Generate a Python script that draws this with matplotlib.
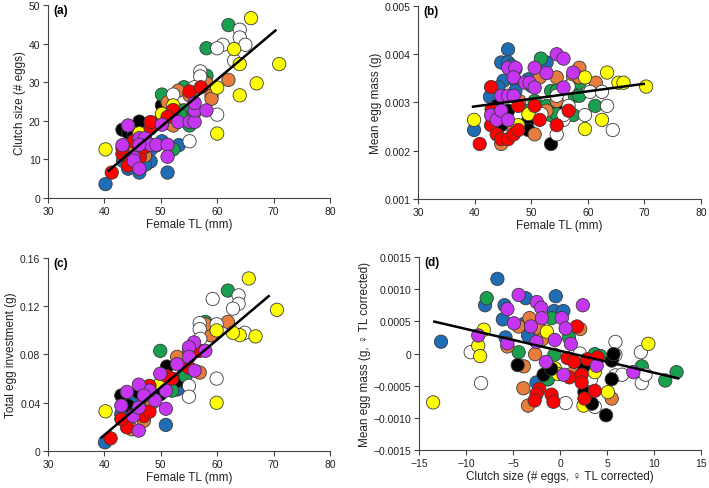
import matplotlib
matplotlib.use("Agg")
import matplotlib.pyplot as plt

plt.rcParams["font.family"] = ["Liberation Sans", "DejaVu Sans"]

# group colours: B blue, K black, R red, P purple, O orange, G green, Y yellow, W white
colours = {"B": "#1f6db5", "K": "#000000", "R": "#ff0000", "P": "#c636f2",
           "O": "#e67d3c", "G": "#19a04f", "Y": "#ffff00", "W": "#ffffff"}

# ---- (a) clutch size vs female TL
a_x = [40.2, 46.2, 51.2, 53.2, 50.2, 47.5, 48.2, 44.2, 49.2, 43.3, 47.2, 46.2, 48.2,
       43.2, 46.2, 44.2, 45.2, 50.2, 50.2, 53.1, 53.1, 45.5,
       62.0, 58.1, 58.1, 50.2, 54.1, 54.1, 55.1, 52.2, 51.0, 53.5, 57.5,
       62.0, 59.0, 59.0, 58.1, 51.2, 53.1, 52.2, 47.2, 44.2, 55.1, 45.2, 56.0,
       64.0, 64.0, 65.0, 61.0, 60.0, 63.0, 57.0, 57.0, 52.2, 60.0, 55.1, 56.0,
       40.2, 66.0, 63.0, 64.0, 71.0, 67.0, 64.0, 60.0, 60.0, 46.2, 46.2, 50.2, 52.2,
       41.3, 44.2, 46.3, 43.2, 43.2, 45.2, 48.2, 48.2, 52.2, 51.2, 55.1, 57.1, 47.2, 46.3,
       44.2, 43.2, 46.2, 47.2, 48.2, 49.2, 45.2, 45.2, 46.2, 51.2, 51.2, 53.1, 55.1, 56.0,
       56.0, 58.1, 56.0, 50.2, 46.2]
a_y = [3.6, 6.6, 6.6, 13.7, 14.7, 8.9, 9.5, 7.6, 13.6, 9.6, 8.6, 13.2, 12.6,
       17.7, 19.8, 17.0, 16.4, 24.0, 21.1, 21.0, 22.8, 15.0,
       44.8, 38.8, 31.7, 26.8, 28.7, 22.7, 18.8, 12.6, 19.5, 21.5, 30.5,
       30.6, 26.6, 25.7, 29.7, 24.8, 27.8, 18.8, 11.0, 11.0, 26.6, 13.0, 22.2,
       43.6, 41.6, 39.7, 39.7, 38.8, 35.6, 32.8, 31.5, 26.8, 21.6, 14.7, 28.7,
       12.6, 46.6, 38.6, 34.7, 34.7, 29.7, 26.6, 28.6, 16.7, 16.8, 12.8, 21.8, 24.0,
       6.6, 8.4, 10.6, 11.4, 12.8, 14.7, 18.1, 19.7, 22.8, 21.0, 27.6, 28.7, 13.2, 14.5,
       18.8, 13.7, 15.5, 15.5, 13.8, 13.8, 10.5, 9.7, 7.6, 13.8, 10.7, 19.7, 19.7, 19.7,
       22.7, 22.7, 24.6, 19.0, 13.8]
a_g = "BBBBBBBBBBBBB" + "KKKKKKKKK" + "GGGGGGGGGGG" + "OOOOOOOOOOOO" + \
      "WWWWWWWWWWWW" + "YYYYYYYYYYYYY" + "RRRRRRRRRRRRRR" + "PPPPPPPPPPPPPPPPPPP"
a_line_x = [40.6, 70.5]
a_line_y = [6.9, 43.6]

# ---- (b) mean egg mass vs female TL
b_x = [39.9, 45.9, 44.7, 45.9, 46.5, 45.1, 47.2, 47.2, 47.2, 44.2, 42.7, 52.7, 50.1, 49.5,
       43.9, 45.9, 44.7, 49.5, 49.5, 53.5, 54.5,
       51.7, 53.5, 54.5, 57.7, 58.5, 58.5, 57.4, 61.3, 53.5, 54.5, 50.6, 49.5, 52.7,
       44.7, 46.9, 50.6, 50.6, 51.5, 52.7, 54.5, 54.5, 58.5, 57.4, 58.5, 61.4, 47.9,
       54.5, 55.7, 55.7, 56.6, 56.6, 59.5, 60.4, 62.5, 63.4, 64.4, 54.5, 51.8,
       39.9, 47.7, 49.5, 59.5, 63.4, 65.4, 66.3, 70.3, 59.5, 62.5,
       42.9, 40.9, 42.9, 43.9, 44.7, 45.9, 46.9, 47.7, 47.7, 50.6, 51.5, 54.5, 56.6, 43.0,
       54.5, 55.7, 45.9, 47.2, 50.6, 52.7, 46.9, 48.9, 49.7, 50.6, 55.7, 57.4, 44.7, 45.9,
       46.9, 42.9, 43.9, 44.7, 45.9]
b_y = [0.00243, 0.0041, 0.00383, 0.00383, 0.00376, 0.00345, 0.00369, 0.00345, 0.00324,
       0.00331, 0.00312, 0.00383, 0.00334, 0.00348,
       0.00293, 0.00283, 0.00253, 0.00264, 0.00243, 0.00214, 0.00293,
       0.00391, 0.00324, 0.00324, 0.00314, 0.00314, 0.00341, 0.00274, 0.00293, 0.00274,
       0.00276, 0.00303, 0.00283, 0.00293,
       0.00214, 0.00243, 0.00234, 0.00276, 0.00352, 0.00283, 0.00352, 0.00303, 0.00372,
       0.00352, 0.00352, 0.00341, 0.00303,
       0.00234, 0.00264, 0.00274, 0.00333, 0.00293, 0.00274, 0.00322, 0.00322, 0.00293,
       0.00243, 0.00314, 0.00276,
       0.00264, 0.00253, 0.00276, 0.00352, 0.00362, 0.00341, 0.00341, 0.00333, 0.00245,
       0.00264,
       0.00332, 0.00214, 0.00253, 0.00234, 0.00224, 0.00224, 0.00234, 0.00243, 0.00293,
       0.00293, 0.00264, 0.00253, 0.00283, 0.00286,
       0.0040, 0.00391, 0.00372, 0.00372, 0.00372, 0.00361, 0.00352, 0.00341, 0.00341,
       0.00331, 0.00331, 0.00362, 0.00314, 0.00314, 0.00314, 0.00274, 0.00264, 0.00283,
       0.00264]
b_g = "BBBBBBBBBBBBBB" + "KKKKKKK" + "GGGGGGGGGGGGG" + "OOOOOOOOOOOOO" + \
      "WWWWWWWWWWWW" + "YYYYYYYYYY" + "RRRRRRRRRRRRRR" + "PPPPPPPPPPPPPPPPPPP"
b_line_x = [39.5, 70.1]
b_line_y = [0.00291, 0.00339]

# ---- (c) total egg investment vs female TL
c_x = [40.1, 50.9, 52.9, 43.0, 45.2, 47.0,
       43.0, 44.2, 45.2, 46.1, 49.9, 51.1, 54.0, 52.9,
       61.9, 49.9, 57.9, 57.9, 54.4, 52.0, 58.9,
       61.9, 58.9, 52.9, 55.0, 56.9, 48.5, 47.0, 44.9, 57.9,
       59.2, 63.8, 63.8, 62.8, 64.9, 56.9, 56.9, 59.9, 59.9, 55.0, 55.0, 57.0,
       40.2, 65.6, 70.6, 66.8, 64.0, 62.8, 59.9, 59.9, 49.9,
       41.1, 44.0, 47.0, 48.0, 48.0, 43.0, 55.0, 51.1, 56.9, 52.0,
       55.9, 57.9, 55.0, 56.0, 52.9, 55.0, 49.9, 50.9, 50.9, 49.0, 48.0, 46.1, 44.0, 43.0,
       45.1, 46.1, 47.0, 46.1]
c_y = [0.0072, 0.0216, 0.051, 0.0307, 0.0445, 0.040,
       0.046, 0.0376, 0.0307, 0.0486, 0.047, 0.070, 0.058, 0.058,
       0.133, 0.083, 0.107, 0.102, 0.062, 0.050, 0.096,
       0.107, 0.096, 0.078, 0.083, 0.065, 0.040, 0.025, 0.018, 0.105,
       0.126, 0.129, 0.122, 0.118, 0.098, 0.106, 0.101, 0.105, 0.060, 0.054, 0.045, 0.093,
       0.0329, 0.143, 0.117, 0.095, 0.096, 0.098, 0.100, 0.040, 0.056,
       0.0105, 0.0196, 0.029, 0.0326, 0.054, 0.0265, 0.069, 0.062, 0.083, 0.060,
       0.090, 0.083, 0.086, 0.0666, 0.072, 0.078, 0.064, 0.050, 0.035, 0.042, 0.050, 0.055,
       0.049, 0.0376, 0.029, 0.0169, 0.046, 0.036]
c_g = "BBBBBB" + "KKKKKKKK" + "GGGGGGG" + "OOOOOOOOO" + "WWWWWWWWWWWW" + \
      "YYYYYYYYY" + "RRRRRRRRRR" + "PPPPPPPPPPPPPPPPPP"
c_line_x = [39.3, 69.3]
c_line_y = [0.0105, 0.129]

# ---- (d) residual egg mass vs residual clutch size
d_x = [-6.66, -12.66, -7.97, -5.9, -6.08, -3.64, -0.45, -0.63, 0.36, -5.8, -3.4, -2.5, -1.3, -3.8,
       -7.8, -0.9, -4.4, -0.6, 0.95, 3.7, 4.3, 8.7, 11.2, 12.4, -1.3,
       -3.25, -4.4, -2.1, -2.65, -5.6, -3.85, -3.9, -3.4, 2.15, 1.2, 5.5, -1.9,
       -9.5, -8.4, 0.6, 3.7, 3.3, 5.9, 5.9, 5.9, 6.6, 8.6, 8.7, 9.1, 2.1,
       -13.5, -8.1, -8.7, -8.5, -1.4, -0.55, -0.2, 3.2, 3.7, 2.5, 5.1, 9.4,
       -4.5, -1.75, -0.93, 2.5, 2.6, 4.9, 5.5, 5.5, 5.7, 3.4,
       1.8, 0.8, 1.5, 2.9, 4.0, 1.0, 2.3, 2.3, 3.7, 2.6, -0.9, -0.7, -2.2, -2.5, -2.7,
       -4.4, -2.47, -2.0, 2.43, -5.6, -1.93, 0.2, 0.6, -3.1, -4.9, -2.5, -0.55, 1.15, -8.7,
       -5.6, -1.5, 0.38, 3.9, 7.8]
d_y = [0.00116, 0.000183, 0.00075, 0.00075, 0.00053, 0.00086, 0.00089, 0.00066, 0.00066,
       0.00025, 0.00028, -0.00045, -0.0004, 0.00046,
       0.00086, 0.00055, 0.00002, -0.00002, 0.00025, -0.00001, -0.00004, -0.0002, -0.00042,
       -0.00029, -0.0004,
       0.00055, 0.00042, 0.00037, -0.00001, 0.00011, -0.0002, -0.00054, -0.00081, 0.00038,
       -0.00032, -0.0007, 0.00022,
       0.00002, -0.00046, -0.00077, -0.00083, -0.0004, 0.00018, -0.00002, -0.00034, -0.00033,
       0.00002, -0.00046, -0.00033, 0.0,
       -0.00076, 0.00037, 0.00012, -0.00004, 0.00034, -0.00023, -0.00032, -0.00023, -0.00029,
       -0.00081, -0.0006, 0.00015,
       -0.00018, -0.00033, -0.00024, -0.0002, -0.0006, -0.00096, -0.0004, -0.00011, -0.00001,
       -0.00078,
       0.00042, -0.00007, -0.00013, -0.00009, -0.00006, -0.00037, -0.00033, -0.00045, -0.00058,
       -0.0007, -0.00064, -0.00075, -0.00055, -0.00063, -0.00073,
       0.00091, 0.0008, 0.00071, 0.00075, 0.00069, 0.00055, 0.00055, 0.00039, 0.00042, 0.00047,
       0.00018, 0.00021, 0.00015, 0.00028, 0.00016, -0.00013, -0.00033, -0.00019, -0.00029]
d_g = "BBBBBBBBBBBBBB" + "GGGGGGGGGGG" + "OOOOOOOOOOOO" + "WWWWWWWWWWWWW" + \
      "YYYYYYYYYYYY" + "KKKKKKKKKK" + "RRRRRRRRRRRRRRR" + "PPPPPPPPPPPPPPPPPPP"
d_line_x = [-13.5, 12.7]
d_line_y = [0.0005, -0.00039]

tl_ticks = [30, 40, 50, 60, 70, 80]
a_yticks = [0, 10, 20, 30, 40, 50]
b_yticks = [0.001, 0.002, 0.003, 0.004, 0.005]
b_ylabels = ["0.001", "0.002", "0.003", "0.004", "0.005"]
c_yticks = [0, 0.04, 0.08, 0.12, 0.16]
c_ylabels = ["0", "0.04", "0.08", "0.12", "0.16"]
d_xticks = [-15, -10, -5, 0, 5, 10, 15]
d_xlabels = ["\u221215", "\u221210", "\u22125", "0", "5", "10", "15"]
d_yticks = [-0.0015, -0.001, -0.0005, 0, 0.0005, 0.001, 0.0015]
d_ylabels = ["\u22120.0015", "\u22120.0010", "\u22120.0005", "0", "0.0005", "0.0010", "0.0015"]

fig = plt.figure(figsize=(7.09, 4.89), dpi=100)


def panel(rect, xs, ys, gs, lx, ly, tag, xlabel, ylabel, xt, xl, yt, yl):
    ax = fig.add_axes(rect)
    ax.scatter(xs, ys, c=[colours[g] for g in gs], s=92, edgecolors="#3a3a3a",
               linewidths=0.6, clip_on=False, zorder=2)
    ax.plot(lx, ly, color="black", lw=1.8, zorder=3, solid_capstyle="butt")
    ax.set_xlim(xt[0], xt[-1])
    ax.set_ylim(yt[0], yt[-1])
    ax.set_xticks(xt)
    ax.set_xticklabels(xl)
    ax.set_yticks(yt)
    ax.set_yticklabels(yl)
    for s in ["top", "right"]:
        ax.spines[s].set_visible(False)
    for s in ["left", "bottom"]:
        ax.spines[s].set_color("#444444")
        ax.spines[s].set_linewidth(0.8)
    ax.tick_params(direction="out", length=3.5, width=0.8, color="#444444",
                   labelsize=7.5, labelcolor="#222222", pad=2)
    ax.set_xlabel(xlabel, fontsize=8.5, color="#222222", labelpad=2)
    ax.set_ylabel(ylabel, fontsize=8.5, color="#222222", labelpad=2)
    ax.text(0.02, 1.005, tag, transform=ax.transAxes, fontsize=8.5,
            fontweight="bold", va="top", ha="left")
    return ax


panel([0.0677, 0.593, 0.3977, 0.3947], a_x, a_y, a_g, a_line_x, a_line_y, "(a)",
      "Female TL (mm)", "Clutch size (# eggs)", tl_ticks, [str(t) for t in tl_ticks],
      a_yticks, [str(t) for t in a_yticks])
panel([0.5896, 0.591, 0.3992, 0.3947], b_x, b_y, b_g, b_line_x, b_line_y, "(b)",
      "Female TL (mm)", "Mean egg mass (g)", tl_ticks, [str(t) for t in tl_ticks],
      b_yticks, b_ylabels)
panel([0.0677, 0.0757, 0.3977, 0.3947], c_x, c_y, c_g, c_line_x, c_line_y, "(c)",
      "Female TL (mm)", "Total egg investment (g)", tl_ticks, [str(t) for t in tl_ticks],
      c_yticks, c_ylabels)
panel([0.591, 0.0777, 0.3977, 0.3947], d_x, d_y, d_g, d_line_x, d_line_y, "(d)",
      "Clutch size (# eggs, \u2640 TL corrected)", "Mean egg mass (g, \u2640 TL corrected)",
      d_xticks, d_xlabels, d_yticks, d_ylabels)

fig.savefig("out.png", dpi=100)
